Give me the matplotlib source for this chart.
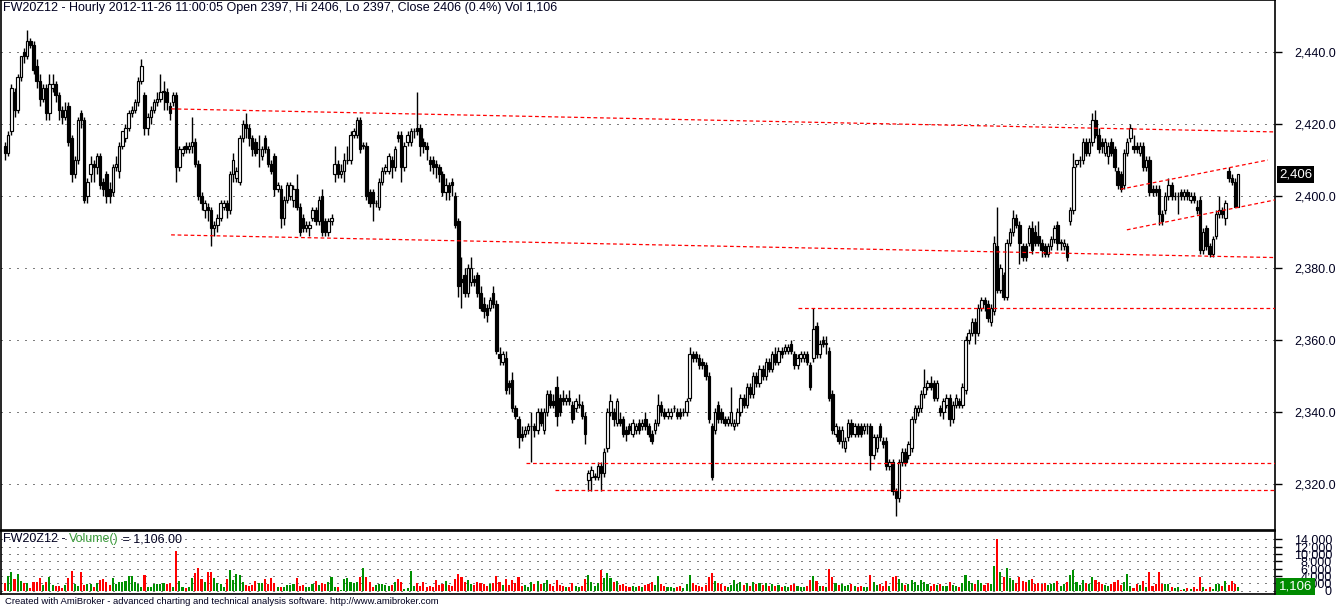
import matplotlib
matplotlib.use("Agg")
import matplotlib.pyplot as plt
import matplotlib.transforms as mtransforms
import numpy as np

plt.rcParams['font.family'] = ['Liberation Sans', 'DejaVu Sans']

# hourly FW20Z12 bars, oldest first
opens = [
    2414, 2412, 2418, 2429, 2424, 2433, 2440, 2439, 2443, 2442,
    2436, 2432, 2427, 2430, 2423, 2430, 2431, 2428, 2424, 2422,
    2425, 2416, 2406, 2410, 2423, 2421, 2400, 2406, 2409, 2408,
    2411, 2404, 2406, 2402, 2401, 2408, 2407, 2414, 2416, 2419,
    2423, 2424, 2426, 2432, 2428, 2419, 2422, 2424, 2426, 2427,
    2429, 2429, 2425, 2426, 2428, 2408, 2412, 2414, 2413, 2414,
    2415, 2409, 2400, 2396, 2397, 2396, 2391, 2392, 2394, 2397,
    2398, 2396, 2406, 2405, 2404, 2416, 2420, 2419, 2416, 2415,
    2413, 2411, 2416, 2413, 2409, 2411, 2402, 2402, 2394, 2399,
    2400, 2399, 2402, 2397, 2394, 2391, 2391, 2394, 2396, 2393,
    2400, 2393, 2390, 2393, 2406, 2409, 2406, 2407, 2410, 2410,
    2417, 2417, 2421, 2414, 2414, 2401, 2401, 2398, 2397, 2404,
    2407, 2407, 2410, 2408, 2417, 2417, 2408, 2415, 2415, 2418,
    2419, 2419, 2415, 2414, 2410, 2410, 2409, 2408, 2406, 2401,
    2403, 2404, 2400, 2393, 2377, 2378, 2373, 2376, 2377, 2378,
    2373, 2370, 2369, 2369, 2373, 2370, 2356, 2354, 2355, 2348,
    2349, 2341, 2338, 2334, 2334, 2335, 2336, 2336, 2335, 2340,
    2335, 2340, 2345, 2343, 2347, 2344, 2344, 2343, 2344, 2342,
    2341, 2342, 2342, 2339, 2321, 2322, 2322, 2322, 2325, 2323,
    2330, 2340, 2340, 2337, 2338, 2338, 2335, 2336, 2334, 2335,
    2337, 2336, 2338, 2336, 2334, 2335, 2337, 2342, 2340, 2339,
    2339, 2341, 2340, 2340, 2340, 2340, 2344, 2356, 2356, 2355,
    2354, 2353, 2350, 2336, 2335, 2342, 2340, 2338, 2337, 2337,
    2336, 2337, 2340, 2344, 2342, 2347, 2345, 2350, 2348, 2352,
    2350, 2354, 2352, 2356, 2354, 2357, 2357, 2357, 2359, 2356,
    2353, 2355, 2355, 2356, 2353, 2355, 2364, 2356, 2360, 2359,
    2357, 2345, 2334, 2335, 2332, 2330, 2333, 2337, 2334, 2336,
    2336, 2335, 2336, 2336, 2328, 2330, 2336, 2332, 2332, 2325,
    2326, 2318, 2316, 2326, 2329, 2328, 2330, 2338, 2340, 2341,
    2345, 2347, 2348, 2348, 2344, 2341, 2340, 2342, 2344, 2338,
    2342, 2343, 2342, 2346, 2360, 2362, 2365, 2362, 2369, 2371,
    2370, 2365, 2368, 2386, 2374, 2378, 2372, 2387, 2390, 2394,
    2392, 2386, 2386, 2387, 2391, 2390, 2389, 2387, 2386, 2384,
    2386, 2388, 2392, 2387, 2386, 2386, 2393, 2396, 2409, 2410,
    2410, 2415, 2412, 2415, 2421, 2417, 2415, 2412, 2411, 2415,
    2413, 2407, 2406, 2403, 2412, 2416, 2414, 2414, 2412, 2414,
    2408, 2410, 2402, 2402, 2402, 2395, 2396, 2400, 2403, 2400,
    2400, 2401, 2400, 2401, 2399, 2400, 2397, 2399, 2385, 2391,
    2386, 2384, 2389, 2395, 2396, 2394, 2407, 2405, 2404, 2397,
]
highs = [
    2415, 2418, 2431, 2430, 2434, 2439, 2441, 2446, 2444, 2443,
    2438, 2434, 2431, 2431, 2434, 2434, 2432, 2429, 2425, 2426,
    2426, 2417, 2411, 2422, 2424, 2422, 2405, 2411, 2410, 2412,
    2412, 2405, 2407, 2404, 2409, 2411, 2415, 2418, 2420, 2424,
    2425, 2427, 2433, 2438, 2429, 2423, 2425, 2427, 2429, 2434,
    2432, 2430, 2426, 2429, 2429, 2414, 2414, 2415, 2415, 2422,
    2416, 2410, 2401, 2399, 2398, 2397, 2393, 2395, 2399, 2399,
    2399, 2407, 2412, 2408, 2417, 2421, 2423, 2420, 2417, 2416,
    2417, 2414, 2417, 2414, 2410, 2412, 2404, 2403, 2400, 2404,
    2404, 2403, 2406, 2398, 2395, 2393, 2393, 2397, 2397, 2400,
    2402, 2394, 2394, 2395, 2414, 2410, 2409, 2412, 2414, 2418,
    2419, 2422, 2422, 2415, 2415, 2402, 2402, 2399, 2405, 2408,
    2409, 2412, 2411, 2414, 2418, 2418, 2415, 2418, 2419, 2419,
    2429, 2420, 2416, 2415, 2411, 2411, 2410, 2409, 2407, 2405,
    2404, 2405, 2401, 2394, 2383, 2380, 2381, 2383, 2378, 2379,
    2375, 2372, 2370, 2372, 2375, 2371, 2358, 2357, 2357, 2349,
    2351, 2342, 2339, 2336, 2336, 2337, 2340, 2337, 2341, 2341,
    2341, 2346, 2346, 2345, 2350, 2345, 2346, 2345, 2346, 2343,
    2344, 2345, 2343, 2340, 2324, 2325, 2323, 2326, 2326, 2330,
    2341, 2345, 2341, 2344, 2340, 2339, 2336, 2337, 2338, 2337,
    2338, 2338, 2340, 2337, 2335, 2338, 2345, 2343, 2341, 2341,
    2341, 2342, 2341, 2341, 2341, 2344, 2358, 2357, 2357, 2356,
    2355, 2354, 2351, 2337, 2341, 2343, 2341, 2339, 2339, 2347,
    2338, 2341, 2345, 2345, 2348, 2348, 2351, 2351, 2353, 2353,
    2355, 2355, 2357, 2358, 2358, 2358, 2359, 2359, 2360, 2357,
    2356, 2357, 2357, 2357, 2354, 2369, 2365, 2360, 2361, 2361,
    2358, 2346, 2337, 2336, 2336, 2333, 2338, 2338, 2337, 2337,
    2337, 2337, 2337, 2337, 2334, 2334, 2337, 2333, 2333, 2327,
    2327, 2319, 2327, 2330, 2330, 2332, 2339, 2342, 2342, 2346,
    2352, 2349, 2350, 2349, 2349, 2342, 2344, 2345, 2345, 2343,
    2345, 2344, 2348, 2361, 2363, 2366, 2366, 2370, 2372, 2372,
    2371, 2370, 2389, 2397, 2381, 2379, 2388, 2391, 2396, 2395,
    2393, 2387, 2387, 2392, 2393, 2392, 2393, 2388, 2387, 2387,
    2389, 2392, 2393, 2388, 2388, 2387, 2397, 2412, 2410, 2411,
    2416, 2416, 2416, 2423, 2424, 2419, 2416, 2416, 2415, 2416,
    2414, 2408, 2407, 2413, 2416, 2420, 2417, 2415, 2415, 2415,
    2411, 2411, 2403, 2403, 2403, 2396, 2401, 2405, 2404, 2401,
    2401, 2402, 2402, 2402, 2401, 2401, 2399, 2400, 2391, 2392,
    2387, 2389, 2396, 2400, 2397, 2399, 2408, 2406, 2405, 2406,
]
lows = [
    2410, 2411, 2417, 2422, 2423, 2432, 2437, 2438, 2441, 2434,
    2430, 2425, 2426, 2421, 2421, 2429, 2426, 2421, 2420, 2421,
    2414, 2404, 2405, 2409, 2419, 2398, 2398, 2404, 2404, 2406,
    2402, 2400, 2398, 2398, 2400, 2407, 2405, 2413, 2415, 2418,
    2422, 2423, 2425, 2431, 2417, 2417, 2420, 2423, 2425, 2426,
    2424, 2424, 2421, 2425, 2404, 2407, 2411, 2412, 2412, 2412,
    2408, 2399, 2396, 2394, 2393, 2386, 2389, 2390, 2393, 2396,
    2394, 2395, 2404, 2404, 2403, 2415, 2416, 2414, 2411, 2411,
    2408, 2410, 2412, 2408, 2406, 2400, 2401, 2391, 2392, 2398,
    2399, 2397, 2396, 2389, 2390, 2390, 2389, 2393, 2392, 2392,
    2389, 2389, 2389, 2392, 2404, 2405, 2405, 2404, 2409, 2409,
    2416, 2416, 2412, 2413, 2399, 2397, 2393, 2397, 2396, 2403,
    2406, 2406, 2405, 2407, 2415, 2404, 2407, 2414, 2414, 2416,
    2417, 2411, 2412, 2410, 2407, 2406, 2405, 2404, 2400, 2399,
    2399, 2400, 2391, 2372, 2369, 2372, 2372, 2375, 2375, 2372,
    2368, 2366, 2365, 2368, 2369, 2356, 2353, 2353, 2345, 2345,
    2340, 2338, 2330, 2332, 2333, 2334, 2326, 2333, 2334, 2336,
    2334, 2339, 2341, 2341, 2336, 2339, 2342, 2342, 2342, 2337,
    2340, 2341, 2338, 2331, 2318, 2318, 2321, 2321, 2318, 2322,
    2329, 2339, 2336, 2336, 2336, 2333, 2332, 2334, 2333, 2334,
    2334, 2335, 2335, 2333, 2331, 2334, 2336, 2339, 2338, 2338,
    2338, 2340, 2338, 2338, 2339, 2339, 2343, 2354, 2354, 2352,
    2352, 2349, 2337, 2321, 2334, 2337, 2337, 2336, 2336, 2336,
    2335, 2336, 2339, 2341, 2341, 2344, 2344, 2347, 2347, 2349,
    2349, 2351, 2351, 2353, 2353, 2355, 2356, 2356, 2356, 2352,
    2352, 2354, 2354, 2353, 2346, 2354, 2355, 2355, 2358, 2356,
    2343, 2334, 2333, 2331, 2330, 2329, 2332, 2333, 2333, 2333,
    2333, 2334, 2334, 2324, 2327, 2329, 2332, 2330, 2324, 2324,
    2317, 2311, 2315, 2325, 2325, 2327, 2329, 2337, 2339, 2340,
    2344, 2346, 2346, 2343, 2343, 2339, 2338, 2341, 2336, 2337,
    2341, 2341, 2341, 2345, 2359, 2361, 2359, 2361, 2368, 2368,
    2365, 2364, 2367, 2373, 2373, 2371, 2371, 2386, 2389, 2391,
    2381, 2382, 2382, 2386, 2384, 2386, 2386, 2383, 2383, 2383,
    2385, 2387, 2385, 2385, 2385, 2382, 2392, 2395, 2408, 2408,
    2409, 2411, 2411, 2414, 2416, 2412, 2412, 2411, 2409, 2411,
    2407, 2402, 2401, 2402, 2411, 2415, 2412, 2412, 2411, 2407,
    2407, 2400, 2400, 2400, 2392, 2392, 2395, 2399, 2399, 2399,
    2395, 2399, 2399, 2399, 2398, 2398, 2395, 2384, 2384, 2385,
    2383, 2383, 2388, 2394, 2394, 2392, 2404, 2403, 2397, 2397,
]
closes = [
    2412, 2417, 2430, 2424, 2433, 2439, 2439, 2443, 2442, 2435,
    2432, 2427, 2430, 2423, 2431, 2431, 2428, 2424, 2422, 2424,
    2415, 2406, 2410, 2421, 2421, 2399, 2404, 2409, 2408, 2411,
    2403, 2402, 2400, 2400, 2408, 2409, 2414, 2418, 2419, 2423,
    2424, 2426, 2432, 2436, 2419, 2422, 2424, 2426, 2427, 2429,
    2429, 2426, 2423, 2428, 2408, 2413, 2413, 2413, 2414, 2415,
    2409, 2400, 2398, 2398, 2396, 2391, 2392, 2394, 2398, 2398,
    2396, 2406, 2410, 2407, 2416, 2420, 2419, 2416, 2413, 2412,
    2413, 2413, 2413, 2409, 2407, 2402, 2403, 2394, 2399, 2403,
    2403, 2402, 2397, 2390, 2391, 2392, 2392, 2396, 2393, 2399,
    2390, 2390, 2393, 2394, 2409, 2406, 2407, 2410, 2410, 2417,
    2418, 2421, 2413, 2414, 2400, 2398, 2398, 2398, 2404, 2407,
    2408, 2411, 2408, 2413, 2416, 2408, 2414, 2417, 2418, 2418,
    2418, 2414, 2414, 2413, 2409, 2408, 2408, 2406, 2401, 2403,
    2401, 2403, 2392, 2375, 2376, 2373, 2380, 2380, 2376, 2373,
    2369, 2368, 2367, 2371, 2370, 2357, 2355, 2356, 2346, 2347,
    2341, 2339, 2333, 2333, 2335, 2336, 2336, 2335, 2340, 2337,
    2340, 2345, 2342, 2342, 2339, 2340, 2343, 2344, 2343, 2338,
    2343, 2342, 2339, 2334, 2323, 2324, 2322, 2325, 2323, 2329,
    2340, 2343, 2338, 2343, 2337, 2334, 2334, 2335, 2337, 2336,
    2335, 2337, 2336, 2334, 2332, 2337, 2342, 2340, 2339, 2340,
    2340, 2341, 2339, 2339, 2340, 2343, 2356, 2355, 2355, 2353,
    2353, 2350, 2338, 2322, 2340, 2338, 2338, 2337, 2338, 2340,
    2337, 2340, 2344, 2342, 2347, 2345, 2350, 2348, 2352, 2350,
    2354, 2352, 2356, 2354, 2357, 2356, 2358, 2358, 2357, 2353,
    2355, 2356, 2356, 2354, 2347, 2363, 2356, 2359, 2359, 2359,
    2344, 2335, 2336, 2332, 2335, 2332, 2337, 2334, 2336, 2334,
    2334, 2336, 2336, 2328, 2333, 2333, 2333, 2331, 2325, 2326,
    2318, 2316, 2326, 2329, 2326, 2331, 2338, 2341, 2341, 2345,
    2347, 2348, 2347, 2344, 2348, 2340, 2343, 2344, 2338, 2342,
    2344, 2342, 2347, 2360, 2362, 2365, 2362, 2369, 2371, 2370,
    2366, 2369, 2387, 2374, 2380, 2372, 2387, 2390, 2394, 2392,
    2387, 2383, 2383, 2391, 2385, 2387, 2387, 2385, 2384, 2386,
    2388, 2391, 2387, 2387, 2387, 2383, 2396, 2408, 2410, 2410,
    2415, 2412, 2415, 2421, 2417, 2413, 2414, 2415, 2414, 2412,
    2408, 2403, 2402, 2412, 2415, 2419, 2413, 2413, 2414, 2408,
    2410, 2401, 2401, 2401, 2395, 2393, 2400, 2403, 2400, 2400,
    2400, 2400, 2401, 2400, 2400, 2399, 2396, 2385, 2390, 2386,
    2384, 2388, 2395, 2396, 2395, 2398, 2405, 2404, 2397, 2406,
]
volumes = [
    2100, 4100, 5000, 3200, 4600, 2750, 2100, 2100, 640, 2470,
    2470, 3400, 1560, 2470, 3660, 1560, 1190, 1370, 820, 1560,
    3400, 5490, 1830, 1370, 5200, 1560, 1740, 1830, 900, 2100,
    3000, 3200, 2290, 1560, 3400, 1830, 2290, 2470, 2750, 4100,
    4100, 2290, 1830, 1000, 4300, 1100, 900, 1830, 1920, 1920,
    2100, 1830, 2000, 900, 10700, 2750, 1100, 820, 1100, 3400,
    4760, 6200, 3200, 2470, 5000, 5200, 3400, 2100, 1920, 1100,
    3200, 5670, 2930, 4600, 4300, 2290, 1650, 1370, 1560, 2750,
    2100, 2100, 3200, 1830, 3400, 2100, 900, 900, 1100, 1650,
    1560, 1830, 3480, 1190, 1650, 1100, 1000, 1830, 2560, 1560,
    2000, 1830, 2290, 3660, 1100, 900, 270, 3200, 3400, 2470,
    2100, 2290, 3660, 6200, 3660, 2290, 1100, 1560, 1830, 1830,
    1560, 1190, 1650, 2470, 3200, 2470, 460, 730, 5490, 1370,
    2000, 1370, 2290, 900, 1370, 900, 2930, 1560, 1900, 2600,
    1500, 1200, 3100, 4600, 3800, 2500, 2900, 1800, 1600, 2400,
    2100, 1700, 1400, 1900, 2200, 3900, 2300, 1600, 3300, 1500,
    2800, 2000, 3600, 1300, 1500, 1100, 2400, 1800, 2600, 1700,
    2200, 2900, 1800, 1300, 3000, 1600, 1200, 1000, 900, 2000,
    1400, 1100, 1300, 3200, 4200, 2500, 1400, 2100, 5600, 3500,
    4800, 3400, 2300, 2600, 1500, 1900, 1200, 1000, 1400, 1100,
    1300, 1000, 1500, 1700, 2400, 1600, 3900, 1800, 1200, 900,
    1100, 700, 1000, 1300, 800, 1700, 4300, 2200, 1500, 1300,
    1100, 1600, 3700, 4800, 2600, 2000, 1700, 1300, 1100, 1500,
    2800, 1900, 2300, 1600, 2000, 1400, 2500, 1700, 2200, 1500,
    2000, 1300, 1800, 1200, 1500, 1000, 1300, 1100, 1600, 1900,
    1200, 1000, 900, 1300, 2800, 4000, 2600, 1400, 1200, 1000,
    5900, 3800, 2000, 1500, 1800, 1200, 1600, 1900, 1300, 1000,
    1200, 900, 1100, 4400, 2300, 1500, 1800, 1300, 2600, 1400,
    3600, 4100, 3300, 2000, 1600, 1900, 2800, 2300, 1500, 2900,
    2400, 1700, 1300, 1900, 1500, 1800, 1400, 1200, 2500, 1600,
    1300, 1100, 2000, 4300, 2600, 2200, 1800, 2800, 2000, 1500,
    2100, 1900, 6800, 14000, 5200, 3600, 6300, 3400, 3000, 2200,
    3800, 2600, 2300, 2900, 3100, 1900, 2200, 1700, 2000, 1500,
    1800, 2100, 2600, 1400, 1700, 2400, 4200, 5600, 2400, 1500,
    2800, 2100, 1900, 3700, 2900, 2500, 1800, 1500, 1300, 1700,
    2300, 3000, 1650, 2290, 4575, 1370, 730, 1920, 1650, 2750,
    915, 5200, 1370, 1740, 5200, 1920, 1740, 1920, 1100, 640,
    1100, 275, 550, 730, 550, 1100, 550, 3840, 1100, 550,
    1100, 550, 1920, 1920, 1370, 2750, 1650, 2750, 1920, 1106,
]

price_ticks = [2320, 2340, 2360, 2380, 2400, 2420, 2440]
volume_ticks = [0, 2000, 4000, 6000, 8000, 10000, 12000, 14000]

# hand drawn trend lines: (bar, price) -> (bar, price)
trend_lines = [
    ((52.4, 2424.2), (400.6, 2417.8)),
    ((52.4, 2389.2), (400.6, 2382.9)),
    ((250.2, 2368.9), (400.6, 2368.9)),
    ((164.4, 2325.8), (400.6, 2325.8)),
    ((173.5, 2318.3), (400.6, 2318.3)),
    ((352.0, 2401.9), (398.4, 2410.0)),
    ((353.9, 2390.6), (400.6, 2398.9)),
]

title_text = ("FW20Z12 - Hourly 2012-11-26 11:00:05 Open 2397, Hi 2406, Lo 2397, "
              "Close 2406 (0.4%) Vol 1,106")
footer_text = ("Created with AmiBroker - advanced charting and technical analysis "
               "software. http://www.amibroker.com")

W, H = 1336, 609
PX_PER_BAR = 3.17
GREEN = '#009000'
RED = '#ff0000'
INK = '#000020'


def px_axes(fig, x0, y0, x1, y1):
    return fig.add_axes([x0 / W, 1 - y1 / H, (x1 - x0) / W, (y1 - y0) / H])


def dotted_rows(ax, levels, x0, x1):
    ax.hlines(levels, x0, x1, colors='black', linewidth=0.72,
              linestyles=(0, (1, 7)), zorder=0)


def style_frame(ax):
    for sp in ax.spines.values():
        sp.set_linewidth(1.2)
        sp.set_color('black')
    ax.tick_params(axis='x', bottom=False, labelbottom=False)
    ax.yaxis.tick_right()
    ax.tick_params(axis='y', direction='out', length=5, width=1,
                   labelsize=9, pad=9, colors='black', labelcolor=INK)


def main():
    n = len(closes)
    idx = np.arange(n)
    o = np.array(opens, dtype=float)
    c = np.array(closes, dtype=float)
    hi = np.array(highs, dtype=float)
    lo = np.array(lows, dtype=float)
    vol = np.array(volumes, dtype=float)
    up = c >= o

    xmin = (1 - 5) / PX_PER_BAR
    xmax = (1275 - 5) / PX_PER_BAR

    fig = plt.figure(figsize=(W / 100, H / 100), dpi=100)
    fig.patch.set_facecolor('white')

    # price pane
    ax = px_axes(fig, 1, 0, 1275, 530)
    ax.set_xlim(xmin, xmax)
    ax.set_ylim(2440 - 478 / 3.6, 2440 + 52 / 3.6)
    dotted_rows(ax, price_ticks, xmin, xmax)

    ax.vlines(idx, lo, hi, color='black', linewidth=1.0, zorder=2)
    body_lo = np.minimum(o, c)
    body_h = np.maximum(np.abs(c - o), 0.12)
    ax.bar(idx, body_h, bottom=body_lo, width=0.78,
           color=np.where(up, 'white', 'black'), edgecolor='black',
           linewidth=0.85, zorder=3)

    for (x0, y0), (x1, y1) in trend_lines:
        ax.plot([x0, x1], [y0, y1], color=RED, linewidth=0.9,
                linestyle=(0, (3, 2.2)), zorder=4)

    style_frame(ax)
    ax.set_yticks(price_ticks)
    ax.set_yticklabels([f'{t:,.1f}' for t in price_ticks])

    blend = mtransforms.blended_transform_factory(ax.transAxes, ax.transData)
    ax.text(1.003, closes[-1], f'{closes[-1]:,}', transform=blend,
            ha='left', va='center', color='white', fontsize=9.5,
            bbox=dict(facecolor='black', edgecolor='none', pad=1.6),
            clip_on=False, zorder=6)

    fig.text(3 / W, 1 - 8 / H, title_text, fontsize=9.0, color=INK,
             ha='left', va='center')

    # volume pane
    axv = px_axes(fig, 1, 531, 1275, 594)
    axv.set_xlim(xmin, xmax)
    axv.set_ylim(-3.3 * 270.8, 60 * 270.8)
    dotted_rows(axv, volume_ticks, xmin, xmax)
    axv.bar(idx, vol, width=0.66, color=np.where(up, GREEN, RED),
            linewidth=0, zorder=2)
    style_frame(axv)
    axv.set_yticks(volume_ticks)
    axv.set_yticklabels([f'{t:,}' for t in volume_ticks], fontsize=9)
    for lab in axv.get_yticklabels():
        lab.set_horizontalalignment('right')
    axv.tick_params(axis='y', pad=36)

    vblend = mtransforms.blended_transform_factory(axv.transAxes, axv.transData)
    axv.text(1.003, volumes[-1], f'{volumes[-1]:,}', transform=vblend,
             ha='left', va='center', color='white', fontsize=9.5,
             bbox=dict(facecolor='#008a00', edgecolor='none', pad=1.8),
             clip_on=False, zorder=6)

    ty = 1 - 539 / H
    t1 = fig.text(3 / W, ty, 'FW20Z12 - ', fontsize=9.0, color=INK,
                  ha='left', va='center')
    fig.canvas.draw()
    bb = t1.get_window_extent()
    t2 = fig.text(bb.x1 / W, ty, 'Volume()', fontsize=9.0, color='#3a9a3a',
                  ha='left', va='center')
    bb = t2.get_window_extent()
    fig.text(bb.x1 / W, ty, ' = 1,106.00', fontsize=9.0, color=INK,
             ha='left', va='center')

    fig.text(5 / W, 1 - 602 / H, footer_text, fontsize=6.8, color=INK,
             ha='left', va='center')

    fig.savefig('out.png', dpi=100, facecolor='white')
    plt.close(fig)


if __name__ == '__main__':
    main()
